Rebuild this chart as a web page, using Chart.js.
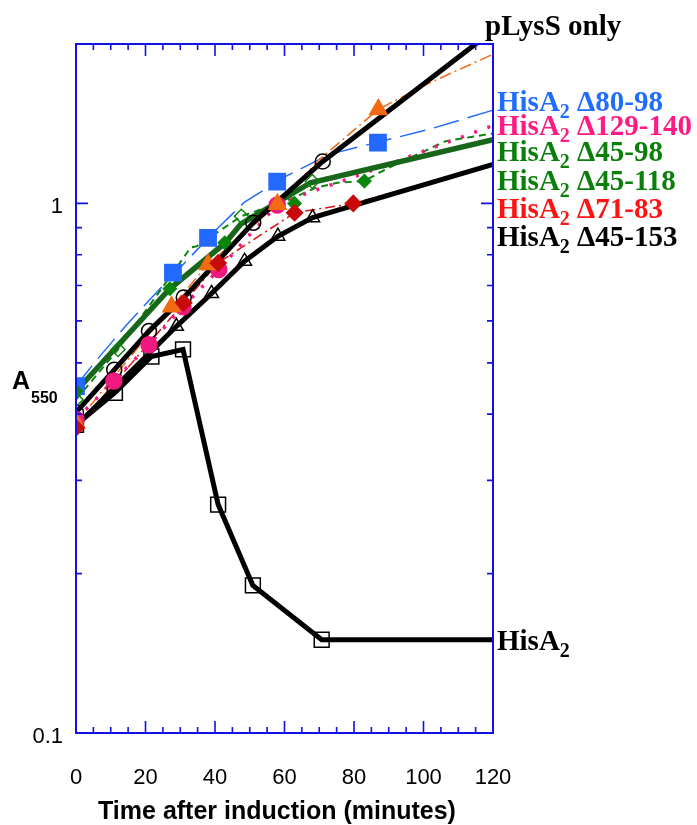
<!DOCTYPE html>
<html>
<head>
<meta charset="utf-8">
<script src="https://cdn.jsdelivr.net/npm/chart.js@4.4.0/dist/chart.umd.min.js"></script>
<style>
  html, body { margin: 0; padding: 0; background: #fff; }
</style>
</head>
<body>
<canvas id="chart" width="697" height="825"></canvas>
<script>
// time (minutes), A550 pairs
const pLysSLine   = [[0,0.403],[11,0.485],[21,0.574],[31,0.664],[51,0.919],[71,1.20],[120,2.12]];
const pLysSMarks  = [[0,0.403],[11,0.485],[21,0.574],[31,0.664],[51,0.919],[71,1.20]];

const orangeLine  = [[0,0.385],[27.5,0.638],[38,0.767],[58,0.996],[70,1.21],[87,1.505],[101,1.68],[120,1.913]];
const orangeMarks = [[0,0.385],[27.5,0.638],[38,0.767],[58,0.996],[87,1.505]];

const blueLine    = [[0,0.452],[6,0.507],[14.6,0.590],[21.2,0.658],[40.4,0.893],[48.5,1.006],[60.5,1.126],[72.9,1.238],[101.6,1.380],[120,1.50]];
const blueMarks   = [[0,0.452],[27.9,0.740],[38,0.861],[57.9,1.099],[86.9,1.302]];

const pinkLine    = [[0,0.391],[10.9,0.462],[21,0.541],[30.8,0.638],[41.1,0.750],[49.8,0.870],[57.9,0.993],[66.4,1.045],[75.2,1.094],[88.7,1.176],[102.1,1.270],[120,1.403]];
const pinkMarks   = [[0,0.391],[10.9,0.462],[21,0.541],[30.8,0.638],[41.1,0.750],[57.9,0.993]];

const greenThickLine  = [[0,0.442],[27,0.69],[43,0.843],[47.5,0.915],[67.5,1.094],[120,1.32]];
const greenOpenMarks  = [[0,0.426],[12.1,0.530],[47.6,0.946],[68,1.10]];
const greenDashLine   = [[0,0.426],[12.1,0.530],[30,0.774],[33,0.826],[34.7,0.83],[47.6,0.946],[61.4,1.017],[69.1,1.071],[75.3,1.094],[83,1.102],[87.3,1.143],[91,1.176],[106.4,1.311],[120,1.356]];
const greenFillMarks  = [[0,0.442],[27,0.690],[42.8,0.843],[62.9,1.0],[83,1.102]];

const redLine     = [[0,0.377],[31,0.649],[40.9,0.772],[62.9,0.960],[79.8,1.0],[120,1.185]];
const redMarks    = [[0,0.377],[31,0.649],[40.9,0.772],[62.9,0.960],[79.8,1.0]];

const d45Line     = [[0,0.38],[28.9,0.586],[39,0.676],[48.5,0.778],[58.1,0.867],[68.1,0.94],[120,1.185]];
const d45Marks    = [[28.9,0.586],[39,0.676],[48.5,0.778],[58.1,0.867],[68.1,0.94]];

const hisLine     = [[0,0.382],[11.2,0.439],[21.7,0.514],[30.8,0.530],[40.9,0.270],[50.9,0.190],[70.7,0.150],[120,0.150]];
const hisMarks    = [[0,0.382],[11.2,0.439],[21.7,0.514],[30.8,0.530],[40.9,0.270],[50.9,0.190],[70.7,0.150]];

const yTicks = [0.1,0.2,0.3,0.4,0.5,0.6,0.7,0.8,0.9,1,2];
const yTickLabels = { 0.1: "0.1", 1: "1" };
const xTicks = [0,20,40,60,80,100,120];

const labels = [
  { main: "pLysS only", color: "#000", y: 35, x: 485, plain: true },
  { main: "HisA", tail: " \u039480-98", color: "#1f6cff", y: 111 },
  { main: "HisA", tail: " \u0394129-140", color: "#ff1a84", y: 135 },
  { main: "HisA", tail: " \u039445-98", color: "#0b7f0b", y: 161 },
  { main: "HisA", tail: " \u039445-118", color: "#0b7f0b", y: 190 },
  { main: "HisA", tail: " \u039471-83", color: "#ff1212", y: 218 },
  { main: "HisA", tail: " \u039445-153", color: "#000", y: 246 },
  { main: "HisA", tail: "", color: "#000", y: 650 }
];

const pts = arr => arr.map(p => ({ x: p[0], y: p[1] }));

function line(data, color, width, dash, order) {
  return { data: pts(data), showLine: true, borderColor: color, borderWidth: width,
           borderDash: dash, pointRadius: 0, pointHoverRadius: 0, fill: false, order: order };
}
function marks(data, style, radius, fillColor, edgeColor, order) {
  return { data: pts(data), showLine: false, pointStyle: style, pointRadius: radius,
           pointHoverRadius: radius, backgroundColor: fillColor, borderColor: edgeColor,
           pointBorderWidth: 1.5, order: order };
}

const none = "rgba(0,0,0,0)";

const frame = {
  id: "frame",
  afterDraw(chart) {
    const { ctx, chartArea: a, scales } = chart;
    const xs = scales.x, ys = scales.y;
    ctx.save();
    ctx.strokeStyle = "#1212e6";
    ctx.lineWidth = 2;
    ctx.strokeRect(a.left, a.top, a.right - a.left, a.bottom - a.top);
    ctx.lineWidth = 1.6;
    ctx.beginPath();
    for (let t = 5; t < 120; t += 5) {
      const x = xs.getPixelForValue(t);
      const len = t % 20 === 0 ? 12 : 6;
      ctx.moveTo(x, a.bottom); ctx.lineTo(x, a.bottom - len);
      ctx.moveTo(x, a.top); ctx.lineTo(x, a.top + len);
    }
    yTicks.forEach(v => {
      if (v === 0.1 || v === 2) return;
      const y = ys.getPixelForValue(v);
      const len = v === 1 ? 12 : 6;
      ctx.moveTo(a.left, y); ctx.lineTo(a.left + len, y);
      ctx.moveTo(a.right, y); ctx.lineTo(a.right - len, y);
    });
    ctx.stroke();

    // axis titles
    ctx.fillStyle = "#000";
    ctx.textBaseline = "alphabetic";
    ctx.textAlign = "center";
    ctx.font = "bold 25px 'Liberation Sans', Arial, sans-serif";
    ctx.fillText("Time after induction (minutes)", 277, 819);
    ctx.textAlign = "left";
    ctx.font = "bold 25px 'Liberation Sans', Arial, sans-serif";
    ctx.fillText("A", 12, 389);
    const aw = ctx.measureText("A").width;
    ctx.font = "bold 16px 'Liberation Sans', Arial, sans-serif";
    ctx.fillText("550", 12 + aw + 1, 403);

    // series labels on the right
    labels.forEach(l => {
      let x = l.x || 497;
      ctx.fillStyle = l.color;
      ctx.font = "bold 29px 'Liberation Serif', 'Times New Roman', serif";
      ctx.fillText(l.main, x, l.y);
      if (l.plain) return;
      x += ctx.measureText(l.main).width;
      ctx.font = "bold 20px 'Liberation Serif', 'Times New Roman', serif";
      ctx.fillText("2", x, l.y + 7);
      x += ctx.measureText("2").width;
      ctx.font = "bold 29px 'Liberation Serif', 'Times New Roman', serif";
      ctx.fillText(l.tail, x, l.y);
    });
    ctx.restore();
  }
};

new Chart(document.getElementById("chart"), {
  type: "scatter",
  data: {
    datasets: [
      marks(redMarks, "rectRot", 8, "#c80a0a", "#c80a0a", 1),
      marks(orangeMarks, "triangle", 10, "#f26b12", "#f26b12", 2),
      marks(pinkMarks, "circle", 8, "#f0197f", "#f0197f", 3),
      marks(greenFillMarks, "rectRot", 6.5, "#0b850b", "#0b850b", 4),
      marks(blueMarks, "rect", 11.5, "#2369ff", "#2369ff", 5),
      marks(greenOpenMarks, "rectRot", 7, none, "#0b850b", 6),
      marks(pLysSMarks, "circle", 7.5, none, "#000", 7),
      marks(hisMarks, "rect", 10.5, none, "#000", 8),
      marks(d45Marks, "triangle", 8, none, "#000", 9),
      line(pLysSLine, "#000", 5, [], 10),
      line(d45Line, "#000", 5, [], 11),
      line(hisLine, "#000", 5, [], 12),
      line(greenThickLine, "#17661a", 5.5, [], 13),
      line(pinkLine, "#f0197f", 3.5, [3, 11], 14),
      line(greenDashLine, "#0b850b", 2, [7, 5], 15),
      line(redLine, "#d81010", 1.5, [10, 4, 2, 4], 16),
      line(orangeLine, "#f26b12", 1.5, [12, 4, 2, 4], 17),
      line(blueLine, "#2369ff", 1.5, [26, 9], 18)
    ]
  },
  options: {
    responsive: false,
    animation: false,
    events: [],
    layout: { padding: { top: 44, right: 204, left: 0, bottom: 0 } },
    plugins: { legend: { display: false }, tooltip: { enabled: false } },
    scales: {
      x: {
        type: "linear", min: 0, max: 120,
        afterBuildTicks: s => { s.ticks = xTicks.map(v => ({ value: v })); },
        afterFit: s => { s.height = 92; },
        grid: { display: false, drawTicks: false },
        border: { display: false },
        ticks: { padding: 32, color: "#000", maxRotation: 0,
                 font: { family: "'Liberation Sans', Arial, sans-serif", size: 22 } }
      },
      y: {
        type: "logarithmic", min: 0.1, max: 2,
        afterBuildTicks: s => { s.ticks = yTicks.map(v => ({ value: v })); },
        afterFit: s => { s.width = 76; },
        grid: { display: false, drawTicks: false },
        border: { display: false },
        ticks: { padding: 13, color: "#000", autoSkip: false, labelOffset: 4,
                 callback: v => yTickLabels[v] || "",
                 font: { family: "'Liberation Sans', Arial, sans-serif", size: 22 } }
      }
    }
  },
  plugins: [frame]
});
</script>
</body>
</html>
